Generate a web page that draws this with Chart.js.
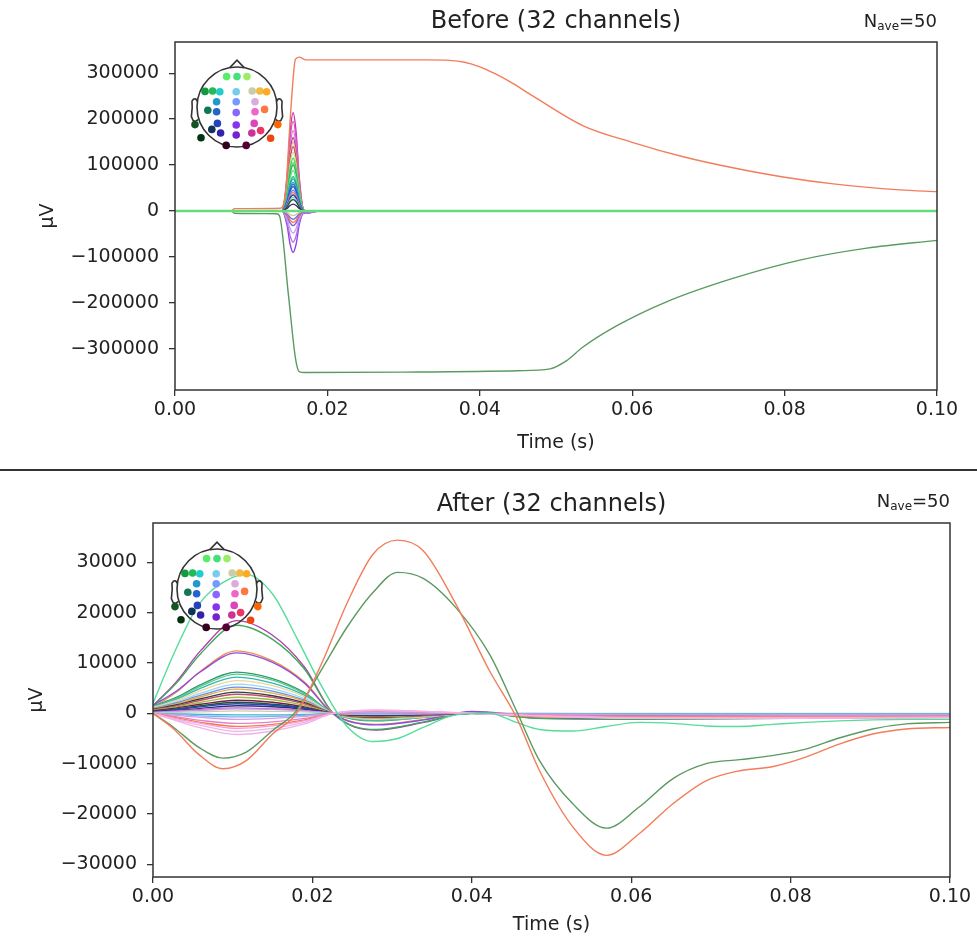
<!DOCTYPE html>
<html>
<head>
<meta charset="utf-8">
<script src="https://cdn.jsdelivr.net/npm/chart.js@4.4.0/dist/chart.umd.min.js"></script>
<style>
  html, body { margin: 0; padding: 0; background: #fff; }
  #wrap { position: relative; width: 977px; height: 937px; overflow: hidden; }
  #wrap canvas { position: absolute; }
  #before { left: 0; top: 0; }
  #after { left: 0; top: 475px; }
  #rule { position: absolute; left: 0; top: 469px; width: 977px; height: 2px; background: #333; }
  #headBefore { left: 179px; top: 49px; }
  #headAfter { left: 159px; top: 531px; }
</style>
</head>
<body>
<div id="wrap">
  <canvas id="before" width="977" height="465"></canvas>
  <div id="rule"></div>
  <canvas id="after" width="977" height="462"></canvas>
  <canvas id="headBefore" width="116" height="116"></canvas>
  <canvas id="headAfter" width="116" height="116"></canvas>
</div>
<script>
// evoked.js — before / after butterfly plots, 32 EEG channels

// ---- tick labels -----------------------------------------------------------
const X_TICKS = [0, 0.02, 0.04, 0.06, 0.08, 0.1];
const BEFORE_Y_TICKS = [-300000, -200000, -100000, 0, 100000, 200000, 300000];
const AFTER_Y_TICKS = [-30000, -20000, -10000, 0, 10000, 20000, 30000];

// ---- "Before" panel --------------------------------------------------------
const T_BEFORE_ORANGE = [0, 0.0074, 0.0078, 0.0138, 0.0145, 0.0152, 0.0158, 0.0163, 0.0172, 0.025, 0.033, 0.036, 0.038, 0.040, 0.042, 0.044, 0.047, 0.0535, 0.0601, 0.0667, 0.0732, 0.0798, 0.0864, 0.0951, 0.1];
const BEFORE_ORANGE   = [0, 0, 5000, 6000, 40000, 220000, 330000, 335000, 329000, 329000, 329000, 328000, 324000, 314000, 299000, 281000, 250000, 186000, 149000, 118000, 94000, 74000, 59000, 46000, 42000];

const T_BEFORE_GREEN = [0, 0.0074, 0.0078, 0.0133, 0.0137, 0.0149, 0.0158, 0.0163, 0.017, 0.03, 0.045, 0.0492, 0.0514, 0.0535, 0.058, 0.0645, 0.0732, 0.082, 0.0908, 0.1];
const BEFORE_GREEN   = [0, 0, -5000, -6000, -10000, -185000, -320000, -350000, -352000, -351000, -348000, -344000, -326000, -297000, -250000, -198000, -147000, -107000, -81000, -64000];

const T_BEFORE_FLAT = [0, 0.1];
const BEFORE_FLAT   = [0, 0];

// spike channels, sampled around the artefact at ~15.5 ms
const T_SPIKE = [0, 0.0075, 0.0140, 0.0147, 0.0151, 0.0155, 0.0159, 0.0163, 0.0168, 0.0175, 0.019, 0.1];
const SPK_01 = [0, 0, 0, 75000, 171000, 214000, 171000, 75000, 6000, -4000, 0, 0];
const SPK_02 = [0, 0, 0, 68000, 156000, 195000, 156000, 68000, 6000, -4000, 0, 0];
const SPK_03 = [0, 0, 0, 61000, 140000, 175000, 140000, 61000, 5000, -3500, 0, 0];
const SPK_04 = [0, 0, 0, 56000, 128000, 160000, 128000, 56000, 5000, -3000, 0, 0];
const SPK_05 = [0, 0, 0, 52000, 120000, 150000, 120000, 52000, 4500, -3000, 0, 0];
const SPK_06 = [0, 0, 0, 49000, 112000, 140000, 112000, 49000, 4000, -3000, 0, 0];
const SPK_07 = [0, 0, 0, 45000, 102000, 128000, 102000, 45000, 4000, -2500, 0, 0];
const SPK_08 = [0, 0, 0, 40000, 92000, 115000, 92000, 40000, 3500, -2300, 0, 0];
const SPK_09 = [0, 0, 0, 37000, 84000, 105000, 84000, 37000, 3000, -2000, 0, 0];
const SPK_10 = [0, 0, 0, 35000, 80000, 100000, 80000, 35000, 3000, -2000, 0, 0];
const SPK_11 = [0, 0, 0, 31000, 70000, 88000, 70000, 31000, 2600, -1800, 0, 0];
const SPK_12 = [0, 0, 0, 26000, 60000, 75000, 60000, 26000, 2200, -1500, 0, 0];
const SPK_13 = [0, 0, 0, 24000, 56000, 70000, 56000, 24000, 2000, -1400, 0, 0];
const SPK_14 = [0, 0, 0, 22000, 50000, 62000, 50000, 22000, 1900, -1200, 0, 0];
const SPK_15 = [0, 0, 0, 20000, 46000, 58000, 46000, 20000, 1700, -1200, 0, 0];
const SPK_16 = [0, 0, 0, 19000, 42000, 53000, 42000, 19000, 1600, -1100, 0, 0];
const SPK_17 = [0, 0, 0, 16000, 36000, 45000, 36000, 16000, 1400, -900, 0, 0];
const SPK_18 = [0, 0, 0, 14000, 32000, 40000, 32000, 14000, 1200, -800, 0, 0];
const SPK_19 = [0, 0, 0, 12000, 28000, 35000, 28000, 12000, 1000, -700, 0, 0];
const SPK_20 = [0, 0, 0, 10500, 24000, 30000, 24000, 10500, 900, -600, 0, 0];
const SPK_21 = [0, 0, 0, 8800, 20000, 25000, 20000, 8800, 800, -500, 0, 0];
const SPK_22 = [0, 0, 0, 5200, 12000, 15000, 12000, 5200, 500, -300, 0, 0];
const SPK_23 = [0, 0, 0, -31000, -72000, -90000, -72000, -31000, -6000, -4000, 0, 0];
const SPK_24 = [0, 0, 0, -24000, -54000, -68000, -54000, -24000, -5000, -3000, 0, 0];
const SPK_25 = [0, 0, 0, -17000, -38000, -48000, -38000, -17000, -4000, -2500, 0, 0];
const SPK_26 = [0, 0, 0, -11000, -26000, -32000, -26000, -11000, -3000, -2000, 0, 0];
const SPK_27 = [0, 0, 0, -8800, -20000, -25000, -20000, -8800, -2000, -1000, 0, 0];
const SPK_28 = [0, 0, 0, -6300, -14000, -18000, -14000, -6300, -1500, -800, 0, 0];
const SPK_29 = [0, 0, 0, -3500, -8000, -10000, -8000, -3500, -800, -400, 0, 0];
const SPIKES = [SPK_01, SPK_02, SPK_03, SPK_04, SPK_05, SPK_06, SPK_07, SPK_08, SPK_09, SPK_10,
  SPK_11, SPK_12, SPK_13, SPK_14, SPK_15, SPK_16, SPK_17, SPK_18, SPK_19, SPK_20,
  SPK_21, SPK_22, SPK_23, SPK_24, SPK_25, SPK_26, SPK_27, SPK_28, SPK_29];
const SPIKE_COLORS = ['#c832b4', '#dc50c3', '#e070d0', '#a040c0', '#eeb044', '#c04080', '#cce070', '#40d060', '#55e055', '#30b070',
  '#66e088', '#30c0a0', '#20a080', '#40a0e0', '#2070d0', '#3050d0', '#7080f0', '#e08060', '#203090', '#80c0f0',
  '#1a5a2a', '#402060', '#9040e0', '#b070f0', '#c0a0f0', '#8060e0', '#ff7040', '#6070f0', '#e0c0a0'];

// ---- "After" panel ---------------------------------------------------------
const T_AFTER_BIG = [0, 0.0026, 0.0057, 0.0088, 0.0117, 0.015, 0.018, 0.0213, 0.0243, 0.0276, 0.0307, 0.0339, 0.038, 0.0422, 0.0456, 0.0485, 0.0527, 0.0569, 0.061, 0.0652, 0.0694, 0.0736, 0.0777, 0.0819, 0.0861, 0.0903, 0.0945, 0.1];
const AFTER_ORANGE = [0, -3100, -8100, -11000, -9400, -4100, 0, 10400, 21700, 31600, 34400, 32300, 21700, 8500, -800, -11400, -22600, -28200, -23900, -18000, -13400, -11400, -10600, -8700, -6100, -4100, -3100, -2800];
const AFTER_GREEN  = [0, -2800, -6700, -8900, -7700, -3400, 500, 9100, 17000, 24000, 28000, 26800, 21000, 11800, 500, -9400, -18000, -22800, -18600, -13000, -10000, -9200, -8400, -7100, -4900, -3100, -2100, -1800];
const AFTER_MINT   = [2000, 11800, 21500, 26000, 27600, 23700, 15100, 5000, -2500, -5600, -5000, -2800, -300, 0, -1800, -3200, -3500, -2600, -1800, -2000, -2500, -2600, -2200, -1800, -1500, -1300, -1200, -1200];

const T_AFTER_SMALL = [0, 0.003, 0.006, 0.0105, 0.015, 0.019, 0.0226, 0.028, 0.034, 0.040, 0.048, 0.060, 0.080, 0.1];
const AFT_01 = [1500, 6400, 12500, 18400, 15500, 9200, 0, -3300, -1800, 200, -900, -1100, -900, -700];
const AFT_02 = [1500, 6100, 11900, 17500, 14700, 8800, 0, -3200, -1700, 200, -1000, -1200, -1000, -800];
const AFT_03 = [1200, 4300, 8400, 12400, 10400, 6200, 0, -2200, -1200, 100, -700, -800, -700, -600];
const AFT_04 = [1600, 4500, 8300, 12000, 10100, 6000, -100, -2300, -1300, 400, -500, -700, -600, -500];
const AFT_05 = [1400, 3200, 5700, 8200, 6900, 4100, 0, -1500, -800, 100, -500, -600, -500, -400];
const AFT_06 = [1300, 3000, 5400, 7800, 6600, 3900, 0, -1400, -800, 100, -500, -600, -500, -400];
const AFT_07 = [1300, 2800, 5000, 7200, 6000, 3600, 0, -1300, -700, 100, -400, -500, -400, -400];
const AFT_08 = [1200, 2600, 4500, 6500, 5500, 3300, 0, -1200, -700, 0, -400, -500, -400, -300];
const AFT_09 = [1000, 2300, 4000, 5800, 4900, 2900, 0, -1000, -600, 0, -300, -400, -300, -300];
const AFT_10 = [1000, 2100, 3600, 5200, 4400, 2600, 0, -900, -500, 0, -300, -400, -300, -300];
const AFT_11 = [900, 1900, 3300, 4800, 4000, 2400, 0, -900, -500, 0, -300, -300, -300, -200];
const AFT_12 = [800, 1700, 2900, 4200, 3500, 2100, 0, -800, -400, 0, -200, -300, -200, -200];
const AFT_13 = [700, 1500, 2600, 3800, 3200, 1900, 0, -700, -400, 0, -200, -300, -200, -200];
const AFT_14 = [600, 1300, 2200, 3200, 2700, 1600, 0, -600, -300, 0, -200, -200, -200, -200];
const AFT_15 = [500, 1100, 1800, 2600, 2200, 1300, 0, -500, -300, 0, -100, -200, -100, -100];
const AFT_16 = [400, 900, 1500, 2200, 1800, 1100, 0, -400, -200, 0, -100, -100, -100, -100];
const AFT_17 = [300, 800, 1300, 1900, 1600, 1000, 0, -300, -200, 0, -100, -100, -100, -100];
const AFT_18 = [300, 600, 1000, 1500, 1300, 800, 0, -300, -200, 0, -100, -100, -100, -100];
const AFT_19 = [200, 500, 800, 1100, 900, 600, 0, -200, -100, 0, -100, -100, -100, -100];
const AFT_20 = [200, 400, 600, 900, 800, 500, 0, -200, -100, 0, 0, -100, -100, -100];
const AFT_21 = [100, 200, 300, 500, 400, 300, 0, -100, 0, 0, 0, 0, 0, 0];
const AFT_22 = [0, -100, -200, -300, -300, -200, 0, 100, 0, 0, -100, -100, -100, -100];
const AFT_23 = [0, -200, -500, -700, -600, -400, 0, 100, 100, 0, -100, -200, -200, -200];
const AFT_24 = [0, -400, -800, -1200, -1000, -600, 0, 200, 100, 0, -200, -300, -300, -300];
const AFT_25 = [0, -700, -1400, -2000, -1700, -1000, 0, 400, 200, 0, -300, -600, -600, -500];
const AFT_26 = [0, -900, -1800, -2600, -2200, -1300, 0, 500, 300, 0, -400, -700, -700, -600];
const AFT_27 = [0, -1100, -2000, -3000, -2500, -1500, 0, 500, 300, 0, -400, -800, -800, -700];
const AFT_28 = [0, -1300, -2400, -3600, -3000, -1800, 0, 600, 400, 0, -500, -900, -900, -800];
const AFT_29 = [0, -1500, -2900, -4200, -3500, -2100, 0, 700, 400, 0, -500, -1000, -1000, -900];
const AFTER_SMALL = [AFT_01, AFT_02, AFT_03, AFT_04, AFT_05, AFT_06, AFT_07, AFT_08, AFT_09, AFT_10,
  AFT_11, AFT_12, AFT_13, AFT_14, AFT_15, AFT_16, AFT_17, AFT_18, AFT_19, AFT_20,
  AFT_21, AFT_22, AFT_23, AFT_24, AFT_25, AFT_26, AFT_27, AFT_28, AFT_29];
const AFTER_COLORS = ['#b03cb0', '#3daa5a', '#f08c4a', '#8a4ee0', '#2f9a6a', '#5cc88a', '#30b8b0', '#f0d49a', '#9ad8f0', '#6a8cf0',
  '#e0b040', '#3a3a4a', '#c05070', '#9ac040', '#7a1a4a', '#1a5a2a', '#2a44c0', '#22337a', '#dd55bb', '#b89af0',
  '#ccccaa', '#40b0e0', '#80b0f0', '#d0a0e0', '#e080d0', '#ff7744', '#f0a0e0', '#e8b8e8', '#f4b0e8'];

// ---- sensor layout for the head insets (head radius = 1) -------------------
const SENSOR_X = [-0.26, 0, 0.25, -0.80, -0.61, -0.43, -0.02, 0.38, 0.57, 0.74, -0.51, -0.02, 0.45, -0.73, -0.51, -0.02, 0.45, 0.69, -1.05, -0.49, -0.02, 0.43, 1.02, -0.63, -0.41, -0.02, 0.37, 0.59, -0.90, 0.84, -0.27, 0.23];
const SENSOR_Y = [0.76, 0.76, 0.76, 0.39, 0.40, 0.38, 0.38, 0.40, 0.40, 0.38, 0.13, 0.13, 0.13, -0.08, -0.12, -0.14, -0.12, -0.06, -0.44, -0.41, -0.45, -0.41, -0.44, -0.56, -0.65, -0.70, -0.65, -0.59, -0.77, -0.78, -0.96, -0.96];
const SENSOR_COLORS = ['#55ee66', '#44e07a', '#99ee66', '#119944', '#22bb55', '#22cccc', '#77ccee', '#ccccaa', '#eebb44', '#ffaa22',
  '#2299cc', '#7799ff', '#ddaadd', '#117755', '#2266cc', '#8866ff', '#ee66cc', '#ff7744', '#115522', '#2244bb',
  '#8833ee', '#dd44bb', '#ff6600', '#113355', '#3322aa', '#7722cc', '#cc3399', '#ee3366', '#003311', '#ee4411',
  '#330022', '#550033'];

Chart.defaults.font.family = '"DejaVu Sans", sans-serif';
Chart.defaults.color = '#222';

function series(t, v, color, width) {
  return {
    data: t.map((x, i) => ({ x, y: v[i] })),
    borderColor: color,
    borderWidth: width || 1.35,
    pointRadius: 0,
    fill: false,
    cubicInterpolationMode: 'monotone',
  };
}

const minusFmt = v => (v < 0 ? '\u2212' + Math.abs(v) : String(v));

// frame + title + N_ave annotation
const panelText = {
  id: 'panelText',
  afterDatasetsDraw(chart) {
    const { ctx, chartArea: a } = chart;
    ctx.save();
    ctx.strokeStyle = '#333';
    ctx.lineWidth = 1.5;
    ctx.strokeRect(a.left, a.top, a.right - a.left, a.bottom - a.top);
    ctx.restore();
  },
  afterDraw(chart, args, opts) {
    const { ctx, chartArea: a } = chart;
    ctx.save();
    ctx.fillStyle = '#222';
    ctx.textBaseline = 'middle';
    ctx.textAlign = 'center';
    ctx.font = '24px "DejaVu Sans"';
    ctx.fillText(opts.title, (a.left + a.right) / 2, opts.titleY);

    ctx.textAlign = 'left';
    ctx.textBaseline = 'alphabetic';
    const big = '18px "DejaVu Sans"', small = '12px "DejaVu Sans"';
    ctx.font = big;
    const wN = ctx.measureText('N').width, wEq = ctx.measureText('=50').width;
    ctx.font = small;
    const wSub = ctx.measureText('ave').width;
    let x = a.right - (wN + wSub + wEq);
    const base = opts.naveY + 7;
    ctx.font = big; ctx.fillText('N', x, base); x += wN;
    ctx.font = small; ctx.fillText('ave', x, base + 3); x += wSub;
    ctx.font = big; ctx.fillText('=50', x, base);
    ctx.restore();
  },
};

function evokedChart(id, datasets, o) {
  const tickFont = { size: 19 };
  const gridOpts = { drawOnChartArea: false, tickLength: 6, color: '#333', lineWidth: 1.3 };
  return new Chart(document.getElementById(id), {
    type: 'line',
    data: { datasets },
    options: {
      responsive: false,
      animation: false,
      events: [],
      layout: { padding: { top: o.padTop, right: o.padRight, left: 0, bottom: 0 } },
      plugins: {
        legend: { display: false },
        tooltip: { enabled: false },
        panelText: { title: o.title, titleY: o.titleY, naveY: o.naveY },
      },
      scales: {
        x: {
          type: 'linear', min: 0, max: 0.1,
          afterFit: s => { s.height = o.xH; },
          afterBuildTicks: s => { s.ticks = X_TICKS.map(value => ({ value })); },
          border: { display: false },
          grid: gridOpts,
          ticks: { autoSkip: false, maxRotation: 0, padding: 3, color: '#222', font: tickFont, callback: v => v.toFixed(2) },
          title: { display: true, text: 'Time (s)', color: '#222', font: tickFont, padding: { top: 0, bottom: o.xTitlePad } },
        },
        y: {
          type: 'linear', min: o.yMin, max: o.yMax,
          afterFit: s => { s.width = o.yW; },
          afterBuildTicks: s => { s.ticks = o.yTicks.map(value => ({ value })); },
          border: { display: false },
          grid: gridOpts,
          ticks: { autoSkip: false, padding: 10, color: '#222', font: tickFont, callback: minusFmt },
          title: { display: true, text: 'µV', color: '#222', font: tickFont, padding: { top: o.yTitlePad, bottom: 0 } },
        },
      },
    },
    plugins: [panelText],
  });
}

// head outline drawn behind the sensor dots
const headOutline = {
  id: 'headOutline',
  beforeDatasetsDraw(chart) {
    const { ctx, scales: { x, y } } = chart;
    const px = v => x.getPixelForValue(v), py = v => y.getPixelForValue(v);
    ctx.save();
    ctx.strokeStyle = '#333';
    ctx.lineWidth = 1.6;
    ctx.beginPath();
    ctx.arc(px(0), py(0), px(1) - px(0), 0, Math.PI * 2);
    ctx.stroke();
    ctx.beginPath();
    ctx.moveTo(px(-0.18), py(0.985));
    ctx.lineTo(px(0), py(1.17));
    ctx.lineTo(px(0.18), py(0.985));
    ctx.stroke();
    const earX = [0.991, 1.03, 1.054, 1.09, 1.126, 1.12, 1.141, 1.096, 1.03, 0.967];
    const earY = [0.144, 0.2, 0.204, 0.194, 0.144, -0.014, -0.24, -0.34, -0.36, -0.31];
    [1, -1].forEach(side => {
      ctx.beginPath();
      earX.forEach((ex, i) => {
        if (i === 0) ctx.moveTo(px(side * ex), py(earY[i]));
        else ctx.lineTo(px(side * ex), py(earY[i]));
      });
      ctx.stroke();
    });
    ctx.restore();
  },
};

function headInset(id) {
  return new Chart(document.getElementById(id), {
    type: 'scatter',
    data: {
      datasets: [{
        data: SENSOR_X.map((x, i) => ({ x, y: SENSOR_Y[i] })),
        pointBackgroundColor: SENSOR_COLORS,
        pointBorderWidth: 0,
        pointRadius: 3.8,
        clip: false,
      }],
    },
    options: {
      responsive: false,
      animation: false,
      events: [],
      layout: { padding: 0 },
      plugins: { legend: { display: false }, tooltip: { enabled: false } },
      scales: {
        x: { display: false, min: -1.35, max: 1.35 },
        y: { display: false, min: -1.35, max: 1.35 },
      },
    },
    plugins: [headOutline],
  });
}

// Chart.js paints dataset 0 last, so build bottom-to-top then reverse
const beforeSets = SPIKES.map((v, i) => series(T_SPIKE, v, SPIKE_COLORS[i]));
beforeSets.push(series(T_BEFORE_ORANGE, BEFORE_ORANGE, '#f27d5b', 1.4));
beforeSets.push(series(T_BEFORE_GREEN, BEFORE_GREEN, '#5a9a62', 1.4));
beforeSets.push(series(T_BEFORE_FLAT, BEFORE_FLAT, '#66dd7a', 2.4));
beforeSets.reverse();

const afterSets = AFTER_SMALL.map((v, i) => series(T_AFTER_SMALL, v, AFTER_COLORS[i]));
afterSets.push(series(T_AFTER_BIG, AFTER_MINT, '#55dd99', 1.4));
afterSets.push(series(T_AFTER_BIG, AFTER_GREEN, '#5a9a62', 1.4));
afterSets.push(series(T_AFTER_BIG, AFTER_ORANGE, '#f27d5b', 1.4));
afterSets.reverse();

evokedChart('before', beforeSets, {
  title: 'Before (32 channels)', titleY: 22, naveY: 20,
  padTop: 42, padRight: 40, xH: 75, yW: 175, xTitlePad: 10.6, yTitlePad: 36.6,
  yMin: -390000, yMax: 368000, yTicks: BEFORE_Y_TICKS,
});

evokedChart('after', afterSets, {
  title: 'After (32 channels)', titleY: 30, naveY: 25,
  padTop: 48, padRight: 27, xH: 60, yW: 153, xTitlePad: 0.6, yTitlePad: 26,
  yMin: -32500, yMax: 37800, yTicks: AFTER_Y_TICKS,
});

headInset('headBefore');
headInset('headAfter');
</script>
</body>
</html>
